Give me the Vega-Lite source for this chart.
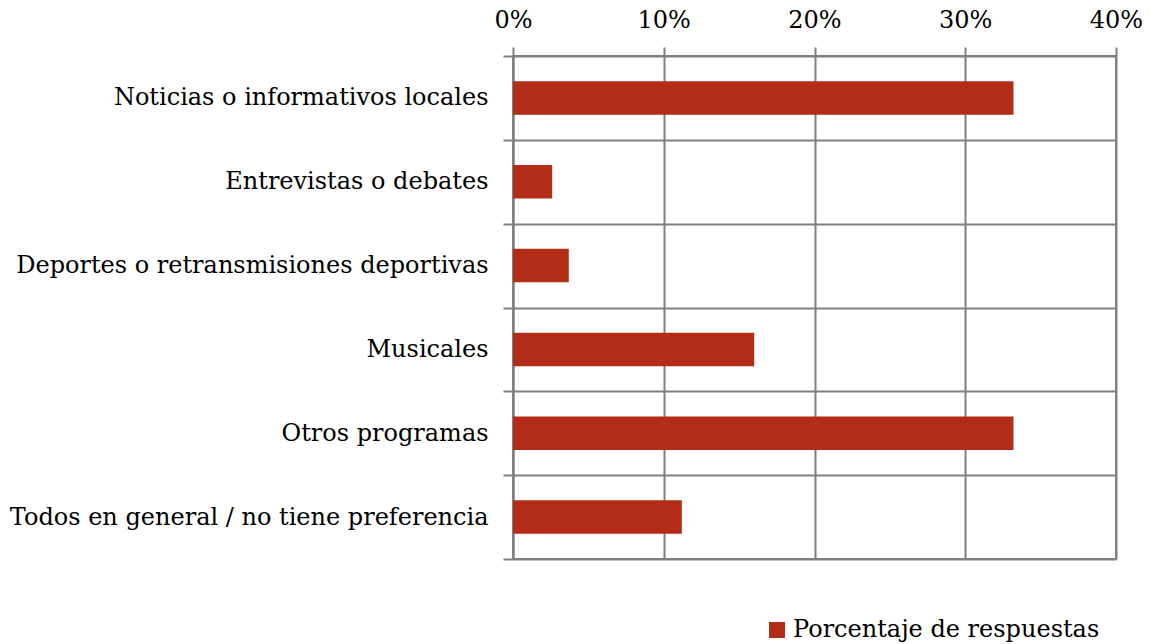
{
  "$schema": "https://vega.github.io/schema/vega-lite/v6.json",
  "width": 603,
  "height": 503,
  "autosize": {"type": "none"},
  "padding": {"left": 513, "top": 56, "right": 34, "bottom": 85},
  "background": "white",
  "config": {
    "view": {"stroke": "#808080", "strokeWidth": 2},
    "font": "DejaVu Serif"
  },
  "data": {
    "values": [
      {"categoria": "Noticias o informativos locales", "porcentaje": 0.332},
      {"categoria": "Entrevistas o debates", "porcentaje": 0.026},
      {"categoria": "Deportes o retransmisiones deportivas", "porcentaje": 0.037},
      {"categoria": "Musicales", "porcentaje": 0.160},
      {"categoria": "Otros programas", "porcentaje": 0.332},
      {"categoria": "Todos en general / no tiene preferencia", "porcentaje": 0.112}
    ]
  },
  "mark": {"type": "bar", "height": {"band": 0.4}, "color": "#B22C17"},
  "encoding": {
    "y": {
      "field": "categoria",
      "type": "nominal",
      "sort": null,
      "scale": {"paddingInner": 0, "paddingOuter": 0},
      "axis": {
        "title": null,
        "tickBand": "extent",
        "grid": true,
        "gridColor": "#808080",
        "gridWidth": 2,
        "domainColor": "#808080",
        "domainWidth": 2,
        "tickColor": "#808080",
        "tickWidth": 2,
        "tickSize": 10,
        "labelFontSize": 24,
        "labelColor": "black",
        "labelPadding": 15,
        "labelLimit": 0,
        "labelFont": "DejaVu Serif"
      }
    },
    "x": {
      "field": "porcentaje",
      "type": "quantitative",
      "scale": {"domain": [0, 0.4], "nice": false},
      "axis": {
        "orient": "top",
        "title": null,
        "format": ".0%",
        "values": [0, 0.1, 0.2, 0.3, 0.4],
        "grid": true,
        "gridColor": "#808080",
        "gridWidth": 2,
        "domain": false,
        "tickColor": "#808080",
        "tickWidth": 2,
        "tickSize": 9,
        "labelFontSize": 24,
        "labelColor": "black",
        "labelPadding": 15,
        "labelFont": "DejaVu Serif",
        "labelFlush": false
      }
    },
    "color": {
      "datum": "Porcentaje de respuestas",
      "type": "nominal",
      "scale": {"range": ["#B22C17"]},
      "legend": {
        "title": null,
        "orient": "none",
        "legendX": 252,
        "legendY": 562,
        "symbolType": "square",
        "symbolSize": 256,
        "symbolStrokeWidth": 0,
        "labelFontSize": 24,
        "labelColor": "black",
        "labelFont": "DejaVu Serif",
        "labelLimit": 0,
        "labelOffset": 4
      }
    }
  }
}
